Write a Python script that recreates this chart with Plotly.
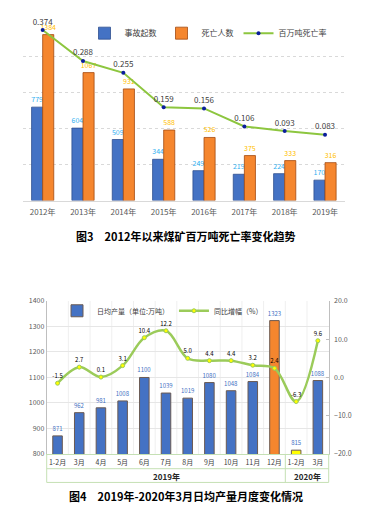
import plotly.graph_objects as go

# ---------- Chart 1 data ----------
years = ["2012年", "2013年", "2014年", "2015年", "2016年", "2017年", "2018年", "2019年"]
accidents = [779, 604, 509, 344, 249, 219, 224, 170]
deaths = [1384, 1067, 931, 588, 526, 375, 333, 316]
death_rate = [0.374, 0.288, 0.255, 0.159, 0.156, 0.106, 0.093, 0.083]

# ---------- Chart 2 data ----------
months_2019 = ["1-2月", "3月", "4月", "5月", "6月", "7月", "8月", "9月", "10月", "11月", "12月"]
months_2020 = ["1-2月", "3月"]
daily_output = [871, 962, 981, 1008, 1100, 1039, 1019, 1080, 1048, 1084, 1323, 815, 1088]
yoy_growth = [-1.5, 2.7, 0.1, 3.1, 10.4, 12.2, 5.0, 4.4, 4.4, 3.2, 2.4, -6.3, 9.6]
year_labels = ["2019年", "2020年"]

W, H = 371, 524
FONT = "Noto Sans CJK SC"


def px_x(p):
    return p / W


def px_y(p):
    return 1 - p / H


fig = go.Figure()

# ---------- Chart 1 traces ----------
fig.add_trace(go.Bar(
    x=years, y=accidents, name="事故起数",
    marker=dict(color="#4472C4", line=dict(color="#2F4F8F", width=0.8)),
    text=[str(v) for v in accidents], textposition="outside", constraintext="none",
    textfont=dict(size=7, color="#2FB0F0", family=FONT),
    xaxis="x", yaxis="y", legend="legend", cliponaxis=False,
))
fig.add_trace(go.Bar(
    x=years, y=deaths, name="死亡人数",
    marker=dict(color="#F5862E", line=dict(color="#A34A10", width=0.8)),
    text=[str(v) for v in deaths], textposition="outside", constraintext="none",
    textfont=dict(size=7, color="#FFC000", family=FONT),
    xaxis="x", yaxis="y", legend="legend", cliponaxis=False,
))
fig.add_trace(go.Scatter(
    x=years, y=death_rate, name="百万吨死亡率", mode="lines+markers+text",
    line=dict(color="#8DC63F", width=2),
    marker=dict(color="#0A1E9C", size=4),
    text=[f"{v:.3f}" for v in death_rate], textposition="top center",
    textfont=dict(size=8, color="#404040", family=FONT),
    xaxis="x", yaxis="y2", legend="legend", cliponaxis=False,
))

# ---------- Chart 2 traces ----------
n19, n20 = len(months_2019), len(months_2020)
xs2 = list(range(n19 + n20))
bar_colors = ["#4472C4"] * (n19 - 1) + ["#F5862E"] + ["#FFFF00"] + ["#4472C4"] * (n20 - 1)
fig.add_trace(go.Bar(
    x=xs2, y=daily_output, name="日均产量（单位:万吨）", width=0.44,
    marker=dict(color=bar_colors, line=dict(color="#6B5A52", width=1)),
    text=[str(v) for v in daily_output], textposition="outside", constraintext="none",
    textfont=dict(size=6, color="#4472C4", family=FONT),
    xaxis="x3", yaxis="y3", legend="legend2",
))
fig.add_trace(go.Scatter(
    x=xs2, y=yoy_growth, name="同比增幅（%）", mode="lines+markers+text",
    line=dict(color="#9BCB5A", width=2.5, shape="spline", smoothing=1),
    marker=dict(color="#FFFF00", size=4, line=dict(color="#9BCB5A", width=1)),
    text=[f"{v:.1f}" for v in yoy_growth], textposition="top center",
    textfont=dict(size=6, color="#000000", family=FONT),
    xaxis="x3", yaxis="y4", legend="legend2", cliponaxis=False,
))

# ---------- Layout ----------
tick_font = dict(size=8, color="#595959", family=FONT)
fig.update_layout(
    width=W, height=H, autosize=False,
    margin=dict(l=0, r=0, t=0, b=0),
    paper_bgcolor="white", plot_bgcolor="white",
    font=dict(family=FONT),
    barmode="group", bargap=0.45, bargroupgap=0,
    xaxis=dict(domain=[px_x(22.5), px_x(345.2)], anchor="y", type="category",
               range=[-0.5, len(years) - 0.5], showgrid=False, showline=True,
               linecolor="#D9D9D9", ticks="", tickfont=tick_font, ticklabelstandoff=4),
    yaxis=dict(domain=[px_y(198.3), px_y(15)], anchor="x", range=[0, 1500], dtick=300,
               showgrid=True, gridcolor="#D9D9D9", griddash="dot", showticklabels=False,
               zeroline=False, showline=False),
    yaxis2=dict(overlaying="y", anchor="x", range=[-0.1, 0.4], visible=False, showgrid=False),
    xaxis3=dict(domain=[px_x(46.7), px_x(328.7)], anchor="y3",
                range=[-0.5, n19 + n20 - 0.5],
                tickvals=xs2, ticktext=months_2019 + months_2020,
                showgrid=False, showline=True, linecolor="#C5E0B4", ticks="",
                ticklabelstandoff=2,
                tickfont=dict(size=7, color="#404040", family=FONT)),
    yaxis3=dict(domain=[px_y(456.7), px_y(300.7)], anchor="x3", range=[800, 1400], dtick=100,
                showgrid=True, gridcolor="#E6E6E6", zeroline=False, showline=True,
                linecolor="#BFBFBF", ticks="", tickfont=dict(size=7, color="#595959", family=FONT)),
    yaxis4=dict(overlaying="y3", anchor="x3", side="right", range=[-20, 20], dtick=10,
                tickformat=".1f", showgrid=False, zeroline=False, showline=True,
                linecolor="#BFBFBF", ticks="inside", ticklen=3, tickcolor="#BFBFBF",
                ticklabelstandoff=3,
                tickfont=dict(size=7, color="#595959", family=FONT)),
    legend=dict(orientation="h", x=px_x(208), xanchor="center", y=px_y(27.7), yanchor="middle",
                font=dict(size=8, color="#404040", family=FONT), itemwidth=30,
                bgcolor="rgba(0,0,0,0)"),
    legend2=dict(orientation="h", x=px_x(268), xanchor="right", y=px_y(310.7), yanchor="middle",
                 font=dict(size=7, color="#404040", family=FONT), itemwidth=30,
                 bgcolor="rgba(0,0,0,0)"),
)

# ---------- Chart 2 category table ----------
line_style = dict(color="#C5E0B4", width=1)
y_axis2 = px_y(456.7)
y_mid = px_y(471.7)
y_bot = px_y(485.7)
shapes = [
    dict(type="line", xref="x3 domain", yref="paper", x0=0, x1=1, y0=y_mid, y1=y_mid, line=line_style),
    dict(type="line", xref="x3 domain", yref="paper", x0=0, x1=1, y0=y_bot, y1=y_bot, line=line_style),
    dict(type="line", xref="x3 domain", yref="paper", x0=0, x1=0, y0=y_axis2, y1=y_bot, line=line_style),
    dict(type="line", xref="x3 domain", yref="paper", x0=1, x1=1, y0=y_axis2, y1=y_bot, line=line_style),
    dict(type="line", xref="x3", yref="paper", x0=n19 - 0.5, x1=n19 - 0.5, y0=y_axis2, y1=y_bot, line=line_style),
]
# faint vertical grid at category boundaries
for i in range(1, n19 + n20):
    shapes.append(dict(type="line", xref="x3", yref="y3", x0=i - 0.5, x1=i - 0.5, y0=800, y1=1400,
                       line=dict(color="#EFEFEF", width=1), layer="below"))
fig.update_layout(shapes=shapes)

annotations = [
    dict(text="<b>" + year_labels[0] + "</b>", xref="x3", yref="paper", x=(n19 - 1) / 2, y=px_y(479.5),
         xanchor="center", yanchor="middle",
         showarrow=False, font=dict(size=8, color="#262626", family=FONT)),
    dict(text="<b>" + year_labels[1] + "</b>", xref="x3", yref="paper", x=n19 + (n20 - 1) / 2, y=px_y(479.5),
         xanchor="center", yanchor="middle",
         showarrow=False, font=dict(size=8, color="#262626", family=FONT)),
    dict(text="<b>图3　2012年以来煤矿百万吨死亡率变化趋势</b>", xref="paper", yref="paper",
         x=0.5, y=px_y(234.3), xanchor="center", yanchor="middle",
         showarrow=False, font=dict(size=11, color="#000000", family=FONT)),
    dict(text="<b>图4　2019年-2020年3月日均产量月度变化情况</b>", xref="paper", yref="paper",
         x=0.5, y=px_y(500), xanchor="center", yanchor="middle",
         showarrow=False, font=dict(size=11, color="#000000", family=FONT)),
]
fig.update_layout(annotations=annotations)

fig.write_html("out.html", config={"displayModeBar": False},
               post_script="document.body.style.margin='0';")
